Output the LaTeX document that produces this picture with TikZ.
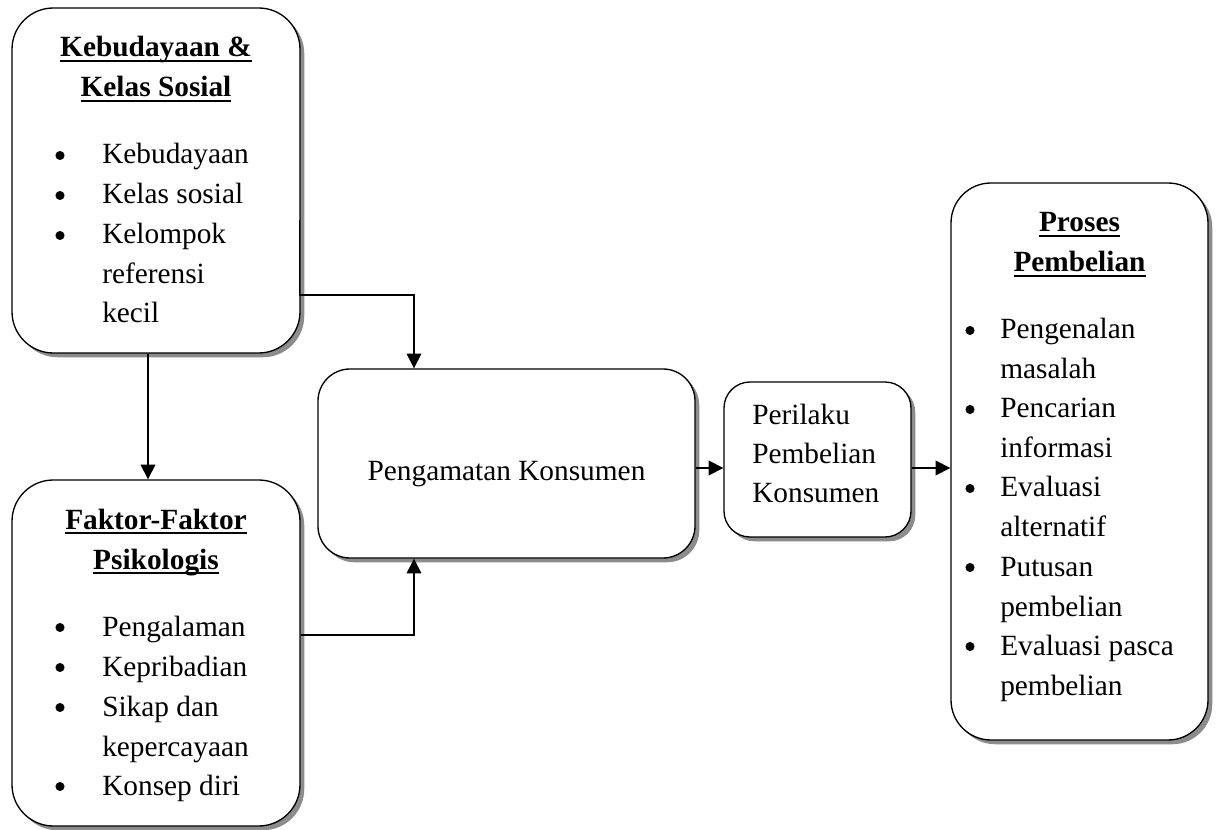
\documentclass[tikz,border=0pt]{standalone}
\usepackage{fontspec}
\setmainfont{Liberation Serif}
\usetikzlibrary{arrows.meta,shadows}
\newcommand\wul[1]{\setbox0\hbox{#1}\rlap{\vrule height -2.4pt depth 4.1pt width \wd0}\box0}
\begin{document}
\begin{tikzpicture}[x=0.75pt,y=-0.75pt,
  box/.style={draw=black, line width=1pt, fill=white, rectangle,
    drop shadow={shadow xshift=3.2pt, shadow yshift=-3.2pt, fill=black!45, opacity=1}},
  txt/.style={font=\fontsize{22}{26}\selectfont, inner sep=0pt, anchor=base west},
  ctxt/.style={font=\fontsize{22}{26}\selectfont, inner sep=0pt, anchor=base},
  hd/.style={font=\bfseries\fontsize{22}{26}\selectfont, inner sep=0pt, anchor=base},
  bul/.style={circle, fill=black, draw=none, inner sep=0pt, minimum size=6.8pt},
  arr/.style={line width=1pt, -{Triangle[length=11pt,width=11pt]}}]
\useasboundingbox (0,0) rectangle (1218,830);

% boxes
\node[box, minimum width=216pt, minimum height=258.75pt, rounded corners=31pt] (A) at (156,180.5) {};
\node[box, minimum width=216pt, minimum height=259.5pt, rounded corners=31pt] (B) at (156,653) {};
\node[box, minimum width=282.75pt, minimum height=141.75pt, rounded corners=24pt] (C) at (506.5,463.5) {};
\node[box, minimum width=140.25pt, minimum height=116.25pt, rounded corners=19.5pt] (D) at (817.5,459.5) {};
\node[box, minimum width=192.75pt, minimum height=417.75pt, rounded corners=30pt] (E) at (1079.5,461.5) {};

% box A text
\node[hd] (Ah1) at (156,57) {\wul{Kebudayaan \&}};
\node[hd] (Ah2) at (156,97) {\wul{Kelas Sosial}};
\node[bul] (Ab1) at (60,155.5) {};
\node[bul] (Ab2) at (60,195.5) {};
\node[bul] (Ab3) at (60,235.5) {};
\node[txt] (At1) at (102,164) {Kebudayaan};
\node[txt] (At2) at (102,204) {Kelas sosial};
\node[txt] (At3) at (102,244) {Kelompok};
\node[txt] (At4) at (102,284) {referensi};
\node[txt] (At5) at (102,323) {kecil};

% box B text
\node[hd] (Bh1) at (156,529) {\wul{Faktor-Faktor}};
\node[hd] (Bh2) at (156,569) {\wul{Psikologis}};
\node[bul] (Bb1) at (60,627.5) {};
\node[bul] (Bb2) at (60,667.5) {};
\node[bul] (Bb3) at (60,707.5) {};
\node[bul] (Bb4) at (60,786.5) {};
\node[txt] (Bt1) at (102,636) {Pengalaman};
\node[txt] (Bt2) at (102,676) {Kepribadian};
\node[txt] (Bt3) at (102,716) {Sikap dan};
\node[txt] (Bt4) at (102,756) {kepercayaan};
\node[txt] (Bt5) at (102,795) {Konsep diri};

% box C text
\node[ctxt] (Ct) at (506.5,481) {Pengamatan Konsumen};

% box D text
\node[txt] (Dt1) at (752,425) {Perilaku};
\node[txt] (Dt2) at (752,464) {Pembelian};
\node[txt] (Dt3) at (752,503) {Konsumen};

% box E text
\node[hd] (Eh1) at (1079.5,232) {\wul{Proses}};
\node[hd] (Eh2) at (1079.5,272) {\wul{Pembelian}};
\node[bul] (Eb1) at (970,330.5) {};
\node[bul] (Eb2) at (970,409.5) {};
\node[bul] (Eb3) at (970,488.5) {};
\node[bul] (Eb4) at (970,567.5) {};
\node[bul] (Eb5) at (970,646.5) {};
\node[txt] (Et1) at (1000,339) {Pengenalan};
\node[txt] (Et2) at (1000,379) {masalah};
\node[txt] (Et3) at (1000,418) {Pencarian};
\node[txt] (Et4) at (1000,458) {informasi};
\node[txt] (Et5) at (1000,497) {Evaluasi};
\node[txt] (Et6) at (1000,537) {alternatif};
\node[txt] (Et7) at (1000,576) {Putusan};
\node[txt] (Et8) at (1000,616) {pembelian};
\node[txt] (Et9) at (1000,655) {Evaluasi pasca};
\node[txt] (Et10) at (1000,695) {pembelian};

% connectors
\coordinate (jA) at (414,295);
\coordinate (a0) at ([xshift=-1pt]A.east);
\draw[arr] (a0 |- 0,220) -- (a0 |- jA) -- (jA) -- (jA |- C.north);
\draw[arr] (148,0 |- A.south) -- (148,0 |- B.north);
\draw[arr] (B.east |- 0,635) -| (jA |- C.south);
\draw[arr] (C.east |- 0,468) -- (D.west |- 0,468);
\draw[arr] (D.east |- 0,468) -- (E.west |- 0,468);
\end{tikzpicture}
\end{document}
